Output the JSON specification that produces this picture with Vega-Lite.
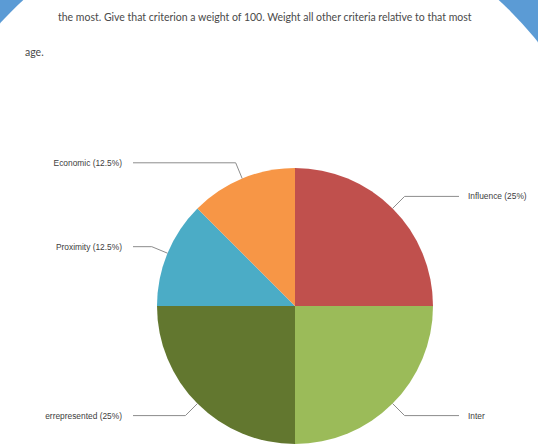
{
  "$schema": "https://vega.github.io/schema/vega-lite/v6.json",
  "width": 538,
  "height": 448,
  "autosize": {"type": "none"},
  "padding": 0,
  "background": "#5B9BD5",
  "config": {"view": {"stroke": null}},
  "datasets": {
    "slices": [
      {"category": "Influence", "display": "Influence (25%)", "value": 25, "order": 1},
      {"category": "Interest", "display": "Inter", "value": 25, "order": 2},
      {"category": "Underrepresented", "display": "errepresented (25%)", "value": 25, "order": 3},
      {"category": "Proximity", "display": "Proximity (12.5%)", "value": 12.5, "order": 4},
      {"category": "Economic", "display": "Economic (12.5%)", "value": 12.5, "order": 5}
    ],
    "notes": [
      {"line": 1, "text": "the most. Give that criterion a weight of 100. Weight all other criteria relative to that most"},
      {"line": 2, "text": "age."}
    ]
  },
  "encoding": {},
  "layer": [
    {
      "data": {"values": [{"shape": "page"}]},
      "mark": {"type": "arc", "fill": "white", "outerRadius": 353, "theta": 0, "theta2": 6.2832},
      "encoding": {
        "x": {"datum": 261, "type": "quantitative", "scale": {"domain": [0, 538], "nice": false, "zero": false}, "axis": null},
        "y": {"datum": 261, "type": "quantitative", "scale": {"domain": [0, 448], "nice": false, "zero": false, "reverse": true}, "axis": null}
      }
    },
    {
      "data": {"name": "notes"},
      "transform": [{"filter": "datum.line == 1"}],
      "mark": {"type": "text", "align": "left", "baseline": "middle", "font": "Lato", "fontSize": 10.5, "color": "#4a4a4a"},
      "encoding": {
        "x": {"datum": 58, "type": "quantitative"},
        "y": {"datum": 18, "type": "quantitative"},
        "text": {"field": "text"}
      }
    },
    {
      "data": {"name": "notes"},
      "transform": [{"filter": "datum.line == 2"}],
      "mark": {"type": "text", "align": "left", "baseline": "middle", "font": "Lato", "fontSize": 10.5, "color": "#4a4a4a"},
      "encoding": {
        "x": {"datum": 25, "type": "quantitative"},
        "y": {"datum": 53, "type": "quantitative"},
        "text": {"field": "text"}
      }
    },
    {
      "data": {"name": "slices"},
      "mark": {"type": "arc", "outerRadius": 138},
      "encoding": {
        "x": {"datum": 295, "type": "quantitative"},
        "y": {"datum": 306, "type": "quantitative"},
        "theta": {"field": "value", "type": "quantitative", "stack": true},
        "order": {"field": "order", "type": "quantitative"},
        "color": {
          "field": "category",
          "type": "nominal",
          "scale": {
            "domain": ["Influence", "Interest", "Underrepresented", "Proximity", "Economic"],
            "range": ["#C0504D", "#9BBB59", "#62772F", "#4BACC6", "#F79646"]
          },
          "legend": null
        }
      }
    },
    {
      "data": {"name": "slices"},
      "transform": [
        {"window": [{"op": "sum", "field": "value", "as": "cum"}], "sort": [{"field": "order"}], "frame": [null, 0]},
        {"joinaggregate": [{"op": "sum", "field": "value", "as": "total"}]},
        {"calculate": "(datum.cum - datum.value / 2) / datum.total * 2 * PI", "as": "mid"},
        {"calculate": "sin(datum.mid)", "as": "s"},
        {"calculate": "cos(datum.mid)", "as": "c"},
        {"calculate": "295 + 138 * datum.s", "as": "ex"},
        {"calculate": "306 - 138 * datum.c", "as": "ey"},
        {"calculate": "295 + 155 * datum.s", "as": "bx"},
        {"calculate": "306 - 155 * datum.c", "as": "by"},
        {"calculate": "datum.s > 0 ? 459 : 133", "as": "hx"},
        {"calculate": "datum.s > 0 ? 468 : 122", "as": "tx"}
      ],
      "layer": [
        {
          "mark": {"type": "rule", "color": "#8C8C8C", "strokeWidth": 1},
          "encoding": {
            "x": {"field": "ex", "type": "quantitative"},
            "y": {"field": "ey", "type": "quantitative"},
            "x2": {"field": "bx"},
            "y2": {"field": "by"}
          }
        },
        {
          "mark": {"type": "rule", "color": "#8C8C8C", "strokeWidth": 1},
          "encoding": {
            "x": {"field": "bx", "type": "quantitative"},
            "y": {"field": "by", "type": "quantitative"},
            "x2": {"field": "hx"},
            "y2": {"field": "by"}
          }
        },
        {
          "transform": [{"filter": "datum.s > 0"}],
          "mark": {"type": "text", "align": "left", "baseline": "middle", "font": "Liberation Sans", "fontSize": 8.4, "color": "#404040"},
          "encoding": {
            "x": {"field": "tx", "type": "quantitative"},
            "y": {"field": "by", "type": "quantitative"},
            "text": {"field": "display"}
          }
        },
        {
          "transform": [{"filter": "datum.s < 0"}],
          "mark": {"type": "text", "align": "right", "baseline": "middle", "font": "Liberation Sans", "fontSize": 8.4, "color": "#404040"},
          "encoding": {
            "x": {"field": "tx", "type": "quantitative"},
            "y": {"field": "by", "type": "quantitative"},
            "text": {"field": "display"}
          }
        }
      ]
    }
  ]
}
